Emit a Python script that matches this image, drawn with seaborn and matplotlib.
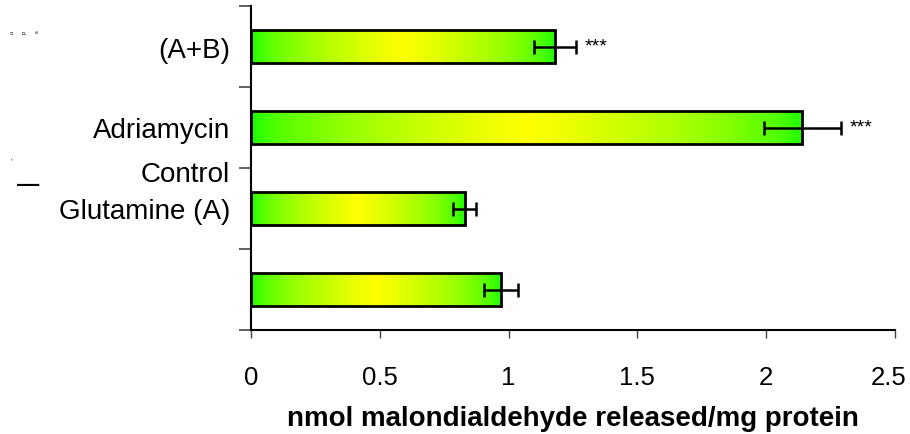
import matplotlib
matplotlib.use("Agg")
import matplotlib.pyplot as plt
import matplotlib.transforms as mtransforms
import seaborn as sns
import pandas as pd
import numpy as np
from matplotlib.colors import ListedColormap

# Data (top to bottom)
groups = ['(A+B)', 'Adriamycin', 'Glutamine (A)', '']
mda = [1.18, 2.14, 0.83, 0.97]          # nmol MDA / mg protein
mda_err = [0.08, 0.15, 0.045, 0.065]
stars = ['***', '***', '', '']
x_ticks = [0, 0.5, 1, 1.5, 2, 2.5]
x_tick_labels = ['0', '0.5', '1', '1.5', '2', '2.5']

df = pd.DataFrame({'Group': [f'g{i}' for i in range(len(groups))], 'MDA': mda})

sns.set_style('white')
plt.rcParams['font.family'] = ['Liberation Sans', 'DejaVu Sans']
for key in ['text.color', 'axes.labelcolor', 'xtick.color', 'ytick.color']:
    plt.rcParams[key] = 'black'

fig = plt.figure(figsize=(9.1, 4.35), dpi=100)
ax = fig.add_axes([251 / 910, 1 - 331 / 435, (895 - 251) / 910, (331 - 7) / 435])

sns.barplot(data=df, x='MDA', y='Group', orient='h', width=0.41,
            errorbar=None, ax=ax, color='white')

# green-yellow-green gradient fill clipped to each bar
t = np.linspace(0, 1, 256)
red = 0.06 + 0.94 * (1 - np.abs(2 * t - 1)) ** 0.55
cmap = ListedColormap(np.column_stack([red, np.ones_like(t), np.zeros_like(t)]))
grad = np.linspace(0, 1, 256).reshape(1, -1)
for p in ax.patches:
    x0, y0 = p.get_x(), p.get_y()
    w, h = p.get_width(), p.get_height()
    p.set_facecolor('none')
    p.set_edgecolor('black')
    p.set_linewidth(2)
    p.set_zorder(3)
    im = ax.imshow(grad, extent=[x0, x0 + w, y0 + h, y0], cmap=cmap,
                   aspect='auto', zorder=2, interpolation='bicubic')
    im.set_clip_path(p)

pos = np.arange(len(groups))
ax.errorbar(mda, pos, xerr=mda_err, fmt='none', ecolor='black',
            elinewidth=1.8, capsize=4.7, capthick=1.8, zorder=4)
for i, s in enumerate(stars):
    if s:
        ax.text(mda[i] + mda_err[i] + 0.035, i - 0.01, s, fontsize=14,
                va='center', ha='left')

ax.set_xlim(0, 2.5)
ax.set_ylim(len(groups) - 0.5, -0.5)
ax.set_xticks(x_ticks)
ax.set_xticklabels(x_tick_labels, fontsize=18.5)
ax.tick_params(axis='x', direction='out', length=6, width=1, pad=19,
               bottom=True, color='#444444')
# keep the last label inside the canvas
last = ax.get_xticklabels()[-1]
last.set_transform(last.get_transform() +
                   mtransforms.ScaledTranslation(-0.06, 0, fig.dpi_scale_trans))

# ticks between groups, labels at group centres
ax.set_yticks(np.arange(-0.5, len(groups), 1.0))
ax.set_yticklabels([])
ax.set_yticks(pos, minor=True)
ax.set_yticklabels(groups, minor=True, fontsize=20)
ax.tick_params(axis='y', which='major', direction='out', length=9, width=1.2,
               left=True, color='#444444')
ax.tick_params(axis='y', which='minor', length=0, pad=15)
ax.text(-0.0326, 1.57, 'Control', transform=ax.get_yaxis_transform(),
        ha='right', va='center', fontsize=20)

ax.set_xlabel('nmol malondialdehyde released/mg protein', fontsize=20,
              fontweight='bold', labelpad=12)
ax.set_ylabel('')

for side in ['top', 'right']:
    ax.spines[side].set_visible(False)
for side in ['left', 'bottom']:
    ax.spines[side].set_color('black')
    ax.spines[side].set_linewidth(1.5)

# stray marks at the far left
for xp, ch in zip([12, 24, 37], ['u', 'p', 's']):
    fig.text(xp / 910, 1 - 32 / 435, ch, fontsize=4, rotation=90,
             ha='center', va='center')
fig.text(11 / 910, 1 - 162 / 435, "'", fontsize=6, ha='center', va='center')
fig.text(28 / 910, 1 - 186 / 435, '\u2014', fontsize=16, fontweight='bold',
         ha='center', va='center')

plt.savefig('out.png', dpi=100)
